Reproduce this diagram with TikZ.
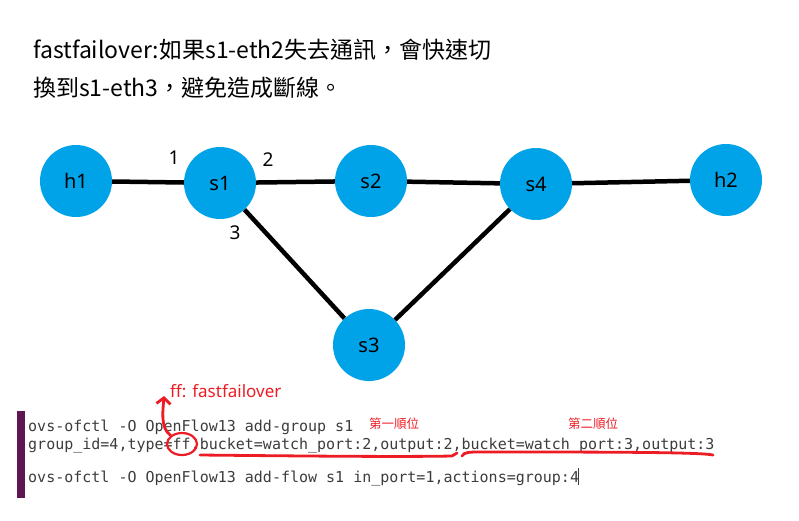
\documentclass[tikz,border=0pt]{standalone}
\usepackage{fontspec}
\setmainfont{Noto Sans CJK TC}
\newfontfamily\labelfont{Noto Sans}
\setmonofont{DejaVu Sans Mono}
\usetikzlibrary{arrows.meta,shapes.geometric}
\definecolor{nodeblue}{HTML}{00A2E8}
\definecolor{inkred}{HTML}{ED1C24}
\definecolor{barpurple}{HTML}{5E1552}
\definecolor{codegray}{HTML}{3C3C3C}

\begin{document}
\begin{tikzpicture}[x=1pt,y=-1pt,
		host/.style={circle,fill=nodeblue,minimum size=72pt,inner sep=0pt,font=\labelfont\fontsize{20}{20}\selectfont},
		link/.style={line width=4.5pt,black},
		port/.style={font=\labelfont\fontsize{19}{19}\selectfont},
		codeline/.style={anchor=base west,inner sep=0pt,text=codegray,font=\ttfamily\fontsize{15}{15}\selectfont},
		note/.style={anchor=base west,inner sep=0pt,text=inkred},
		pen/.style={inkred,line width=2.8pt,line cap=round}]
			\useasboundingbox (0,0) rectangle (799,520);
			% title
			\draw (33,58) node [anchor=base west,inner sep=0pt,font=\fontsize{23}{23}\selectfont] (title1) {fastfailover:如果s1-eth2失去通訊，會快速切};
			\draw (33,96) node [anchor=base west,inner sep=0pt,font=\fontsize{23}{23}\selectfont] (title2) {換到s1-eth3，避免造成斷線。};
			% topology
			\draw (76,181) node [host] (h1) {h1};
			\draw (220,183) node [host] (s1) {s1};
			\draw (371,181) node [host] (s2) {s2};
			\draw (536,184) node [host] (s4) {s4};
			\draw (726,180) node [host] (h2) {h2};
			\draw (369,345) node [host] (s3) {s3};
			\draw (174,158) node [port] (p1) {1};
			\draw (268,160) node [port] (p2) {2};
			\draw (235,233) node [port] (p3) {3};
			\path[link]
				(h1) edge (s1)
				(s1) edge (s2)
					edge (s3)
				(s2) edge (s4)
				(s4) edge (h2)
					edge (s3);
			% code
			\fill[barpurple] (17,411) rectangle (25,498);
			\draw (28,431) node [codeline] (cmd1) {ovs-ofctl -O OpenFlow13 add-group s1};
			\draw (28,449) node [codeline] (cmd2) {group\_id=4,type=ff,bucket=watch\_port:2,output:2,bucket=watch\_port:3,output:3};
			\draw (28,482) node [codeline] (cmd3) {ovs-ofctl -O OpenFlow13 add-flow s1 in\_port=1,actions=group:4};
			\draw[codegray,line width=0.8pt] (578,468) -- (578,485);
			% notes
			\draw (170,397) node [note,font=\labelfont\fontsize{17}{17}\selectfont] (ffnote) {ff: fastfailover};
			\draw (369,428) node [note,font=\fontsize{12.5}{12.5}\selectfont] (rank1) {第一順位};
			\draw (568,428) node [note,font=\fontsize{12.5}{12.5}\selectfont] (rank2) {第二順位};
			\draw (182,444) node [ellipse,draw=inkred,line width=2.2pt,minimum width=30pt,minimum height=22pt,inner sep=0pt] (ffmark) {};
			\coordinate (fftip) at (164,396);
			\draw[pen,-{Straight Barb[length=6pt,width=14pt]}] (ffmark.north west) .. controls (160,428) and (163,410) .. (fftip);
			\draw[pen] (200,455) .. controls (300,456) and (400,457) .. (452,456) -- (457,453);
			\draw[pen] (462,456) .. controls (464,452) and (470,452) .. (480,452) .. controls (600,452) and (700,452) .. (713,455);
		\end{tikzpicture}
\end{document}
